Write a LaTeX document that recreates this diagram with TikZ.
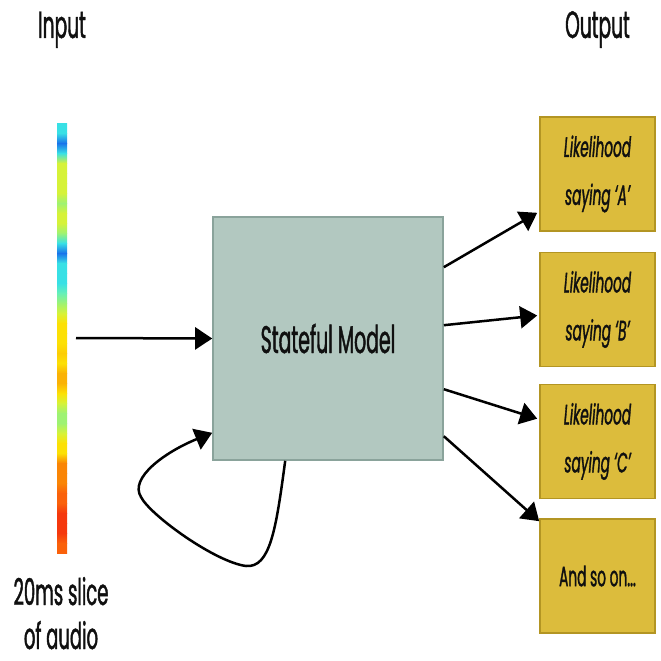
\documentclass[tikz,border=0pt]{standalone}
\usepackage{fontspec}
\setmainfont[FakeStretch=0.49,FakeBold=1.1]{Poppins}
\usetikzlibrary{arrows.meta,calc}

% palette
\definecolor{inktext}{HTML}{101010}
\definecolor{modelfill}{HTML}{B2C8C0}
\definecolor{modeledge}{HTML}{8AA39B}
\definecolor{outfill}{HTML}{DCBC3C}
\definecolor{outedge}{HTML}{B39523}
% spectrogram stripe colours
\definecolor{cy}{rgb}{0.22,0.88,0.90}
\definecolor{bl}{rgb}{0.10,0.45,0.92}
\definecolor{aq}{rgb}{0.40,0.94,0.72}
\definecolor{lg}{rgb}{0.62,0.95,0.45}
\definecolor{yg}{rgb}{0.84,0.95,0.22}
\definecolor{ye}{rgb}{0.99,0.88,0.02}
\definecolor{go}{rgb}{0.99,0.80,0.02}
\definecolor{oy}{rgb}{0.98,0.70,0.02}
\definecolor{or}{rgb}{0.98,0.52,0.02}
\definecolor{ro}{rgb}{0.98,0.38,0.04}
\definecolor{rd}{rgb}{0.96,0.22,0.05}

\tikzset{
  heading/.style={text=inktext, font=\fontsize{38}{40}\selectfont, inner sep=0pt},
  modelbox/.style={draw=modeledge, fill=modelfill, line width=1.6pt,
    minimum width=230pt, minimum height=243pt, inner sep=0pt,
    text=inktext, font=\fontsize{38.5}{42}\selectfont},
  outbox/.style={draw=outedge, fill=outfill, line width=1.6pt,
    minimum width=115pt, minimum height=114pt, inner sep=0pt, align=center,
    text=inktext, font=\fontsize{28}{48}\selectfont},
  flow/.style={line width=2.5pt, -{Triangle[length=17pt,width=22pt]}},
}

\begin{document}
\begin{tikzpicture}[x=1pt,y=-1pt]
\useasboundingbox (0,0) rectangle (661,661);

% headings
\node[heading, anchor=base] (inhead) at (62,38) {Input};
\node[heading, anchor=base] (outhead) at (597.5,38) {Output};

% audio slice as a column of softly blended stripes
\foreach \c/\d [count=\i from 0] in {cy/cy,cy/bl,bl/cy,cy/yg,yg/yg,yg/yg,yg/yg,yg/lg,lg/yg,yg/yg,yg/lg,lg/cy,cy/bl,bl/cy,cy/cy,cy/cy,cy/aq,aq/lg,lg/yg,yg/ye,ye/ye,ye/ye,ye/go,go/ye,ye/oy,oy/oy,oy/ye,ye/yg,yg/lg,lg/lg,lg/yg,yg/ye,ye/ye,ye/or,or/or,or/or,or/ro,ro/ro,ro/rd,rd/rd,rd/rd,rd/ro,ro/ro}
  \shade[top color=\c, bottom color=\d] (57,123+\i*10) rectangle (67,133.4+\i*10);
\coordinate (slice) at (62,338);
\node[heading, align=center, text depth=0pt, font=\fontsize{36.8}{44}\selectfont, anchor=base] (caption) at (61,649) {20ms slice\\of audio};

% model
\node[modelbox] (model) at (328,338.5) {Stateful Model};

% outputs
\node[outbox] (outA) at (597.5,174) {\itshape Likelihood\\\itshape saying `A'};
\node[outbox] (outB) at (597.5,309.5) {\itshape Likelihood\\\itshape saying `B'};
\node[outbox] (outC) at (597.5,441.5) {\itshape Likelihood\\\itshape saying `C'};
\node[outbox] (outD) at (597.5,576) {And so on...};

% input into the model
\draw[flow] ($(slice)+(14,0)$) -- (model.west);

% recurrent loop from the bottom of the model back into its left side
\draw[flow] ($(model.south west)+(73,0)$)
  .. controls (276,530) and (270,568) .. (246,566)
  .. controls (215,562) and (150,515) .. (141,497)
  .. controls (129,478) and (165,452) .. ($(model.south west)+(0,-28)$);

% model to each output
\draw[flow] ($(model.north east)+(0,51)$) -- ($(outA.south west)+(-2,-19)$);
\draw[flow] ($(model.north east)+(0,109)$) -- ($(outB.west)+(-2,6)$);
\draw[flow] ($(model.north east)+(0,173)$) -- ($(outC.north west)+(-2,35)$);
\draw[flow] ($(model.north east)+(0,220)$) -- ($(outD.north west)+(0,3)$);
\end{tikzpicture}
\end{document}
